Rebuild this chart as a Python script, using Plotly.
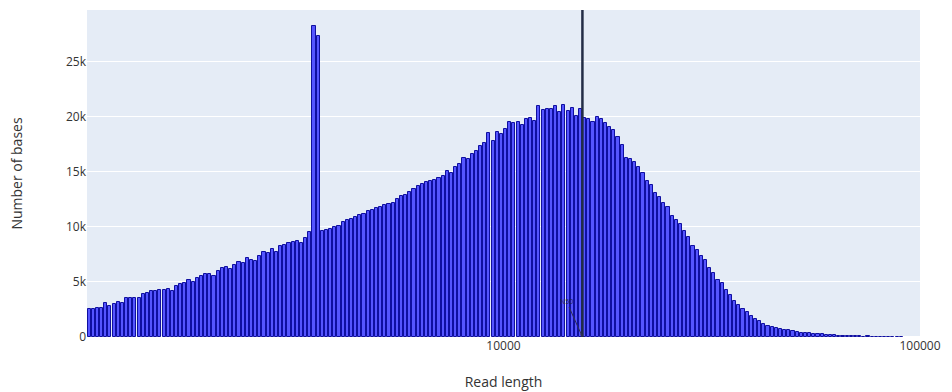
import numpy as np
import plotly.graph_objects as go

# Read-length histogram: 100 log-spaced bins per decade starting at 1 kb
bin_start_log10 = 3.0
bins_per_decade = 100

bases_per_bin = [
    2500, 2550, 2600, 2600, 3100, 2850, 3000, 3200, 3100, 3500,
    3550, 3550, 3550, 3900, 4000, 4150, 4200, 4250, 4300, 4350,
    4200, 4600, 4800, 4900, 5200, 5000, 5400, 5550, 5750, 5700,
    5500, 6000, 6300, 6400, 6200, 6500, 6800, 6750, 7200, 7000,
    6900, 7400, 7700, 7600, 7950, 7750, 8250, 8400, 8500, 8600,
    8700, 8550, 9000, 9550, 28250, 27300, 9600, 9700, 9800, 9950,
    10100, 10400, 10600, 10750, 10900, 11100, 11200, 11400, 11500, 11700,
    11850, 12000, 12100, 12200, 12500, 12800, 12900, 13200, 13400, 13700,
    13900, 14100, 14200, 14300, 14400, 14600, 15100, 14900, 15400, 15700,
    16300, 16200, 16600, 16900, 17350, 17650, 18500, 17800, 18650, 18400,
    18900, 19500, 19400, 19500, 19300, 19800, 19900, 19600, 21000, 20600,
    20700, 20700, 21000, 20400, 21100, 20500, 20800, 20100, 20700, 19900,
    19800, 19500, 20000, 19800, 19400, 19100, 18800, 18200, 17400, 16300,
    16200, 15900, 15400, 14900, 14200, 13800, 13100, 12700, 12200, 11800,
    11000, 10600, 10300, 9600, 9100, 8300, 7900, 7350, 7000, 6300,
    5800, 5200, 4900, 4300, 3800, 3250, 2900, 2500, 2250, 1950,
    1650, 1450, 1200, 1000, 950, 800, 700, 660, 600, 530,
    450, 400, 360, 330, 300, 260, 230, 200, 180, 150,
    120, 80, 70, 60, 50, 60, 40, 50, 30, 40,
    30, 20, 30, 20, 20, 10,
]

n50_length = 15470

x_tick_values = [10000, 100000]
x_tick_text = ["10000", "100000"]

# Bin geometry derived from the log-spaced edges
k = np.arange(len(bases_per_bin) + 1)
edges = 10 ** (bin_start_log10 + k / bins_per_decade)
left, right = edges[:-1], edges[1:]
centers = (left + right) / 2
widths = 0.75 * (right - left)

fig = go.Figure()
fig.add_trace(
    go.Bar(
        x=centers,
        y=bases_per_bin,
        width=widths,
        marker=dict(color="rgb(85,85,255)", line=dict(color="rgb(15,15,160)", width=1)),
        showlegend=False,
    )
)

fig.add_shape(
    type="line",
    xref="x",
    yref="paper",
    x0=n50_length,
    x1=n50_length,
    y0=0,
    y1=1,
    line=dict(color="rgb(35,45,70)", width=2.5),
)

fig.add_annotation(
    x=np.log10(n50_length),
    y=0,
    xref="x",
    yref="y",
    text="N50",
    showarrow=True,
    arrowhead=2,
    arrowsize=0.6,
    arrowwidth=1,
    arrowcolor="rgb(50,50,80)",
    ax=-16,
    ay=-36,
    font=dict(size=7, color="rgb(40,40,70)"),
)

fig.update_layout(
    width=952,
    height=392,
    margin=dict(l=87, r=32, t=10, b=55),
    template="plotly",
    font=dict(family="Open Sans", size=12, color="#333333"),
    bargap=0,
)
fig.update_xaxes(
    type="log",
    range=[3, 5],
    tickvals=x_tick_values,
    ticktext=x_tick_text,
    automargin=False,
    title=dict(text="Read length", font=dict(size=14), standoff=24),
)
fig.update_yaxes(
    range=[0, 29700],
    dtick=5000,
    automargin=False,
    title=dict(text="Number of bases", font=dict(size=14), standoff=40),
)

fig.write_html("out.html")
